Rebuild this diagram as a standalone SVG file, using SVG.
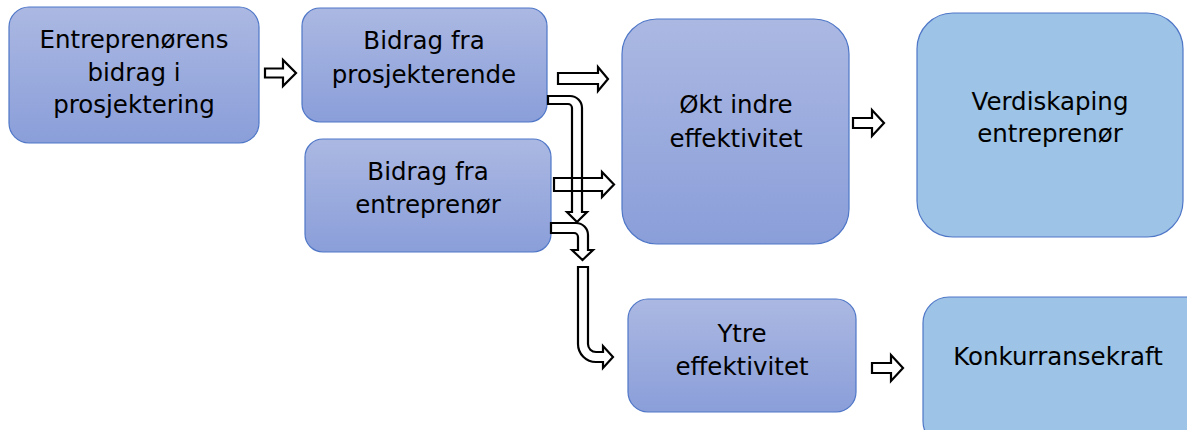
<svg xmlns="http://www.w3.org/2000/svg" width="1187" height="430" viewBox="0 0 1187 430">
  <defs>
    <linearGradient id="gradBlue" x1="0" y1="0" x2="0" y2="1">
      <stop offset="0" stop-color="#abb8e2"/>
      <stop offset="1" stop-color="#8a9ed9"/>
    </linearGradient>
  </defs>
  <style>
    .grad { fill: url(#gradBlue); stroke: #4f77c7; stroke-width: 1.2; }
    .light { fill: #9dc3e6; stroke: #4f77c7; stroke-width: 1.2; }
    .lbl { font-family: "DejaVu Sans", Verdana, sans-serif; font-size: 24.5px; fill: #000; text-anchor: middle; }
    .arrow { fill: #fff; stroke: #000; stroke-width: 2.2; stroke-linejoin: miter; }
    .arrow-open { fill: none; stroke: #000; stroke-width: 2.2; stroke-linejoin: miter; }
  </style>

  <rect width="1187" height="430" fill="#fff"/>

  <g id="node-entreprenorens-bidrag">
    <rect class="grad" x="9" y="7" width="250" height="136" rx="20"/>
    <text class="lbl" x="134" y="48">Entreprenørens</text>
    <text class="lbl" x="134" y="81">bidrag i</text>
    <text class="lbl" x="134" y="113">prosjektering</text>
  </g>

  <g id="node-bidrag-prosjekterende">
    <rect class="grad" x="302" y="8" width="245" height="114" rx="18"/>
    <text class="lbl" x="424" y="49">Bidrag fra</text>
    <text class="lbl" x="424" y="83">prosjekterende</text>
  </g>

  <g id="node-bidrag-entreprenor">
    <rect class="grad" x="305" y="139" width="246" height="113" rx="18"/>
    <text class="lbl" x="428" y="180">Bidrag fra</text>
    <text class="lbl" x="428" y="213">entreprenør</text>
  </g>

  <g id="node-okt-indre">
    <rect class="grad" x="622" y="19" width="227" height="225" rx="35"/>
    <text class="lbl" x="736" y="113">Økt indre</text>
    <text class="lbl" x="736" y="147">effektivitet</text>
  </g>

  <g id="node-verdiskaping">
    <rect class="light" x="917" y="13" width="266" height="224" rx="36"/>
    <text class="lbl" x="1050" y="110">Verdiskaping</text>
    <text class="lbl" x="1050" y="142">entreprenør</text>
  </g>

  <g id="node-ytre">
    <rect class="grad" x="628" y="299" width="228" height="113" rx="20"/>
    <text class="lbl" x="742" y="342">Ytre</text>
    <text class="lbl" x="742" y="375">effektivitet</text>
  </g>

  <g id="node-konkurransekraft">
    <rect class="light" x="923" y="297" width="290" height="150" rx="26"/>
    <text class="lbl" x="1058" y="365">Konkurransekraft</text>
  </g>

  <g id="connectors">
    <!-- block arrow into the second column -->
    <path class="arrow" d="M265,68.5 H283 V60 L296,73 L283,86 V77.5 H265 Z"/>
    <!-- bent arrow down from the upper contribution box -->
    <path class="arrow" d="M548,96 H570 A12,12 0 0 1 582,108 V212 H587 L577,222 L567,212 H572 V108 A4,4 0 0 0 568,104 H548 Z"/>
    <!-- bent arrow down from the lower contribution box -->
    <path class="arrow" d="M551,223 H576 A12,12 0 0 1 588,235 V250 H593 L582.5,260 L572,250 H578 V237 A4,4 0 0 0 574,233 H551 Z"/>
    <!-- long elbow arrow into external efficiency -->
    <path class="arrow" d="M578,267 H588 V344 A8,8 0 0 0 596,352 H603 V346 L613,357 L603,368 V362 H596 A18,18 0 0 1 578,344 Z"/>
    <!-- straight arrows into internal efficiency -->
    <path class="arrow" d="M558,73 H598 V67 L608,79 L598,91 V84 H558 Z"/>
    <path class="arrow-open" d="M554,178 H602 V172 L614,184.5 L602,197 V191 H554 Z"/>
    <!-- arrows into the outcome boxes -->
    <path class="arrow" d="M853,118 H872 V110 L884,123 L872,136 V128 H853 Z"/>
    <path class="arrow" d="M872,363 H891 V355 L903,368 L891,381 V373 H872 Z"/>
  </g>
</svg>
